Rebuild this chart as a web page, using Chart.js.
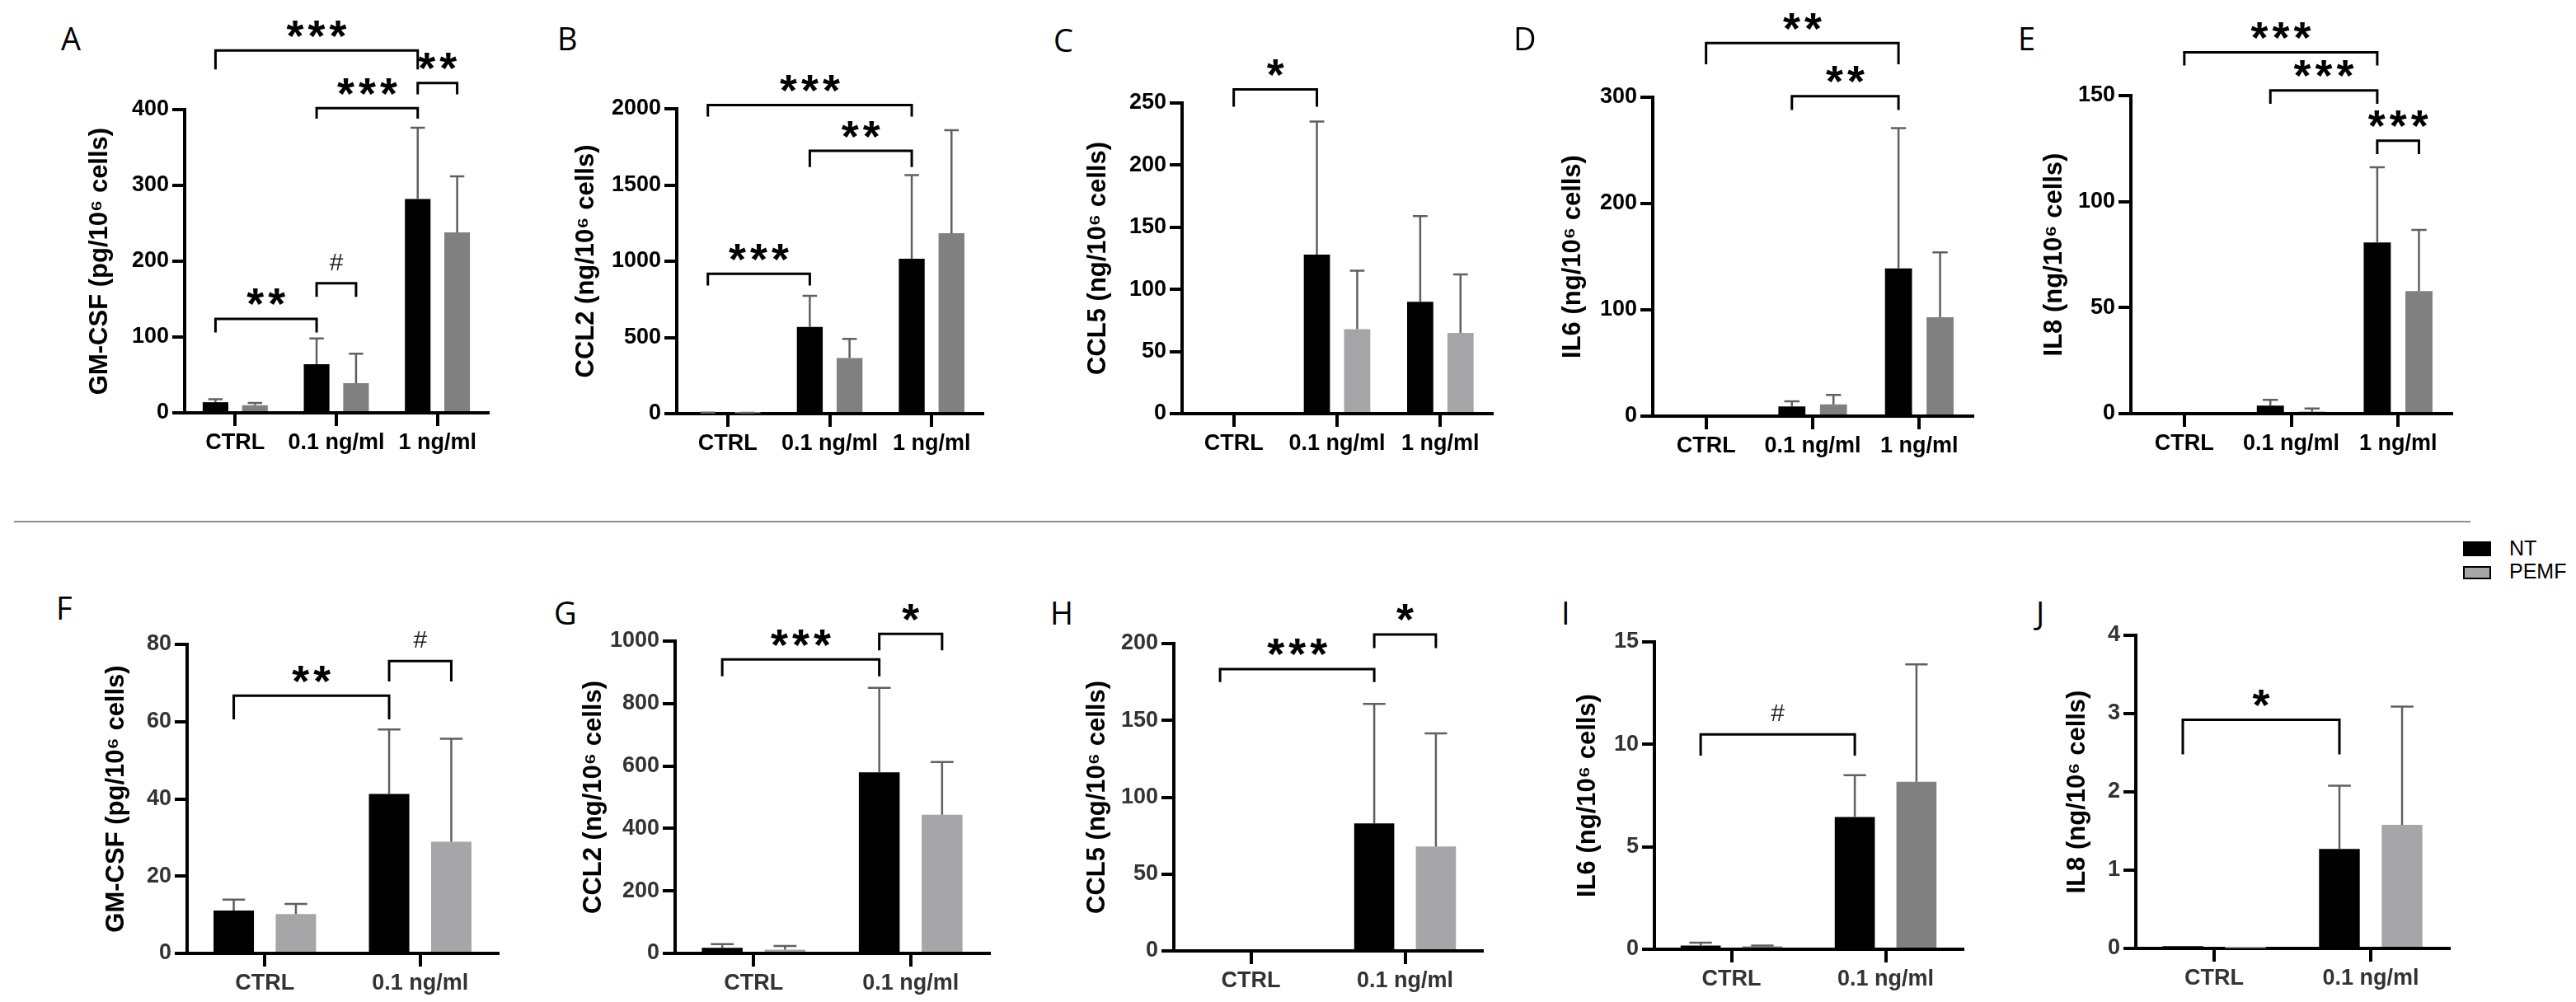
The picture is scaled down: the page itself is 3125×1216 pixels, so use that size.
<!DOCTYPE html>
<html><head><meta charset="utf-8">
<script src="https://cdn.jsdelivr.net/npm/chart.js@4.4.1/dist/chart.umd.min.js"></script>
<style>
html,body{margin:0;padding:0;background:#fff;width:3125px;height:1216px;overflow:hidden;position:relative}
canvas{position:absolute}
.lbl{position:absolute;font-family:'Open Sans',sans-serif;font-size:38px;line-height:1;color:#000}
#sep{position:absolute;left:17px;top:632px;width:2980px;height:2px;background:#8c8c8c}
.lg{position:absolute;font-family:'Liberation Sans',Arial,sans-serif;font-size:25px;line-height:1;color:#000}
.sw{position:absolute;box-sizing:border-box}
</style></head><body>
<div id="sep"></div>
<div class="sw" style="left:2988px;top:657px;width:34px;height:18px;background:#000"></div>
<div class="sw" style="left:2988px;top:687px;width:34px;height:16px;background:#a6a6a6;border:2px solid #000"></div>
<div class="lg" style="left:3044px;top:653px">NT</div>
<div class="lg" style="left:3044px;top:681px">PEMF</div>
<script>
// ---------------- DATA ----------------
const catsTop = ['CTRL', '0.1 ng/ml', '1 ng/ml'];
const catsBottom = ['CTRL', '0.1 ng/ml'];
const seriesNames = ['NT', 'PEMF'];

// Top row (A-E)
const gmcsfTopNT = [14, 64, 282];   const gmcsfTopNTsd = [4, 34, 94];
const gmcsfTopPEMF = [10, 39, 238]; const gmcsfTopPEMFsd = [3, 39, 74];
const gmcsfTopTicks = [0, 100, 200, 300, 400];

const ccl2TopNT = [5, 569, 1016];   const ccl2TopNTsd = [2, 204, 549];
const ccl2TopPEMF = [3, 365, 1184]; const ccl2TopPEMFsd = [2, 126, 676];
const ccl2TopTicks = [0, 500, 1000, 1500, 2000];

const ccl5TopNT = [0, 128, 90];     const ccl5TopNTsd = [0, 107, 69];
const ccl5TopPEMF = [0, 68, 65];    const ccl5TopPEMFsd = [0, 47, 47];
const ccl5TopTicks = [0, 50, 100, 150, 200, 250];

const il6TopNT = [0, 9.2, 139];     const il6TopNTsd = [0, 4.8, 132];
const il6TopPEMF = [0, 11, 93];     const il6TopPEMFsd = [0, 9, 61];
const il6TopTicks = [0, 100, 200, 300];

const il8TopNT = [0, 3.8, 80.7];    const il8TopNTsd = [0, 2.7, 35.5];
const il8TopPEMF = [0, 1, 57.8];    const il8TopPEMFsd = [0, 1.4, 28.9];
const il8TopTicks = [0, 50, 100, 150];

// Bottom row (F-J)
const gmcsfBotNT = [11.1, 41.3];    const gmcsfBotNTsd = [2.8, 16.7];
const gmcsfBotPEMF = [10.2, 28.9];  const gmcsfBotPEMFsd = [2.6, 26.7];
const gmcsfBotTicks = [0, 20, 40, 60, 80];

const ccl2BotNT = [18, 580];        const ccl2BotNTsd = [12, 270];
const ccl2BotPEMF = [12, 444];      const ccl2BotPEMFsd = [12, 169];
const ccl2BotTicks = [0, 200, 400, 600, 800, 1000];

const ccl5BotNT = [0, 83];          const ccl5BotNTsd = [0, 77.7];
const ccl5BotPEMF = [0, 68];        const ccl5BotPEMFsd = [0, 73.5];
const ccl5BotTicks = [0, 50, 100, 150, 200];

const il6BotNT = [0.18, 6.45];      const il6BotNTsd = [0.14, 2.05];
const il6BotPEMF = [0.14, 8.17];    const il6BotPEMFsd = [0.04, 5.73];
const il6BotTicks = [0, 5, 10, 15];

const il8BotNT = [0.03, 1.27];      const il8BotNTsd = [0, 0.81];
const il8BotPEMF = [0.005, 1.58];   const il8BotPEMFsd = [0, 1.51];
const il8BotTicks = [0, 1, 2, 3, 4];

// Significance brackets: [fromBar, fromCat, toBar, toCat, topValue, legValue, label]
const sigA = [['nt',0,'nt',1,124,106,'**'], ['nt',1,'pemf',1,171,153,'#'], ['nt',1,'nt',2,402,388,'***'], ['nt',2,'pemf',2,435,420,'**'], ['nt',0,'nt',2,478,453,'***']];
const sigB = [['nt',0,'nt',1,918,841,'***'], ['nt',1,'nt',2,1724,1617,'**'], ['nt',0,'nt',2,2025,1948,'***']];
const sigC = [['c',0,'nt',1,261,247,'*']];
const sigD = [['nt',1,'nt',2,301,288,'**'], ['c',0,'nt',2,351,331,'**']];
const sigE = [['c',0,'nt',2,170.4,164.2,'***'], ['nt',1,'nt',2,152.4,146.1,'***'], ['nt',2,'pemf',2,128.7,122.4,'***']];
const sigF = [['nt',0,'nt',1,66.7,60.6,'**'], ['nt',1,'pemf',1,75.7,70.4,'#']];
const sigG = [['nt',0,'nt',1,941,887,'***'], ['nt',1,'pemf',1,1023,970,'*']];
const sigH = [['nt',0,'nt',1,183.4,175,'***'], ['nt',1,'pemf',1,205.9,197,'*']];
const sigI = [['nt',0,'nt',1,10.49,9.45,'#']];
const sigJ = [['nt',0,'nt',1,2.92,2.48,'*']];

// ---------------- LAYOUT ----------------
const FONT = "'Liberation Sans', Arial, sans-serif";
const panels = [
  {L:'A', cats:catsTop, title:'GM-CSF (pg/10\u2076 cells)', nt:gmcsfTopNT, ntsd:gmcsfTopNTsd, pe:gmcsfTopPEMF, pesd:gmcsfTopPEMFsd, ticks:gmcsfTopTicks, sig:sigA, pc:'#808080', T:0, titleX:121, axisX:224, xEnd:592, yTop:133, yZero:501, cp:0.78, lx:74, ly:34},
  {L:'B', cats:catsTop, title:'CCL2 (ng/10\u2076 cells)', nt:ccl2TopNT, ntsd:ccl2TopNTsd, pe:ccl2TopPEMF, pesd:ccl2TopPEMFsd, ticks:ccl2TopTicks, sig:sigB, pc:'#808080', T:0, titleX:711, axisX:821, xEnd:1192, yTop:132, yZero:502, cp:0.78, lx:676, ly:34},
  {L:'C', cats:catsTop, title:'CCL5 (ng/10\u2076 cells)', nt:ccl5TopNT, ntsd:ccl5TopNTsd, pe:ccl5TopPEMF, pesd:ccl5TopPEMFsd, ticks:ccl5TopTicks, sig:sigC, pc:'#a5a5a8', T:0, titleX:1332, axisX:1434, xEnd:1810, yTop:125, yZero:502, cp:0.78, lx:1278, ly:36},
  {L:'D', cats:catsTop, title:'IL6 (ng/10\u2076 cells)', nt:il6TopNT, ntsd:il6TopNTsd, pe:il6TopPEMF, pesd:il6TopPEMFsd, ticks:il6TopTicks, sig:sigD, pc:'#808080', T:0, titleX:1908, axisX:2005, xEnd:2393, yTop:118, yZero:505, cp:0.78, lx:1836, ly:34},
  {L:'E', cats:catsTop, title:'IL8 (ng/10\u2076 cells)', nt:il8TopNT, ntsd:il8TopNTsd, pe:il8TopPEMF, pesd:il8TopPEMFsd, ticks:il8TopTicks, sig:sigE, pc:'#808080', T:0, titleX:2492, axisX:2585, xEnd:2974, yTop:116, yZero:502, cp:0.78, lx:2448, ly:34},
  {L:'F', cats:catsBottom, title:'GM-CSF (pg/10\u2076 cells)', nt:gmcsfBotNT, ntsd:gmcsfBotNTsd, pe:gmcsfBotPEMF, pesd:gmcsfBotPEMFsd, ticks:gmcsfBotTicks, sig:sigF, pc:'#a6a6a8', T:640, titleX:141, axisX:227, xEnd:604, yTop:782, yZero:1157, cp:0.8, lx:68, ly:725},
  {L:'G', cats:catsBottom, title:'CCL2 (ng/10\u2076 cells)', nt:ccl2BotNT, ntsd:ccl2BotNTsd, pe:ccl2BotPEMF, pesd:ccl2BotPEMFsd, ticks:ccl2BotTicks, sig:sigG, pc:'#a6a6a8', T:640, titleX:720, axisX:819, xEnd:1200, yTop:778, yZero:1157, cp:0.8, lx:672, ly:731},
  {L:'H', cats:catsBottom, title:'CCL5 (ng/10\u2076 cells)', nt:ccl5BotNT, ntsd:ccl5BotNTsd, pe:ccl5BotPEMF, pesd:ccl5BotPEMFsd, ticks:ccl5BotTicks, sig:sigH, pc:'#a6a6a8', T:640, titleX:1331, axisX:1424, xEnd:1798, yTop:781, yZero:1154, cp:0.8, lx:1274, ly:731},
  {L:'I', cats:catsBottom, title:'IL6 (ng/10\u2076 cells)', nt:il6BotNT, ntsd:il6BotNTsd, pe:il6BotPEMF, pesd:il6BotPEMFsd, ticks:il6BotTicks, sig:sigI, pc:'#808080', T:640, titleX:1926, axisX:2007, xEnd:2381, yTop:779, yZero:1152, cp:0.8, lx:1894, ly:731},
  {L:'J', cats:catsBottom, title:'IL8 (ng/10\u2076 cells)', nt:il8BotNT, ntsd:il8BotNTsd, pe:il8BotPEMF, pesd:il8BotPEMFsd, ticks:il8BotTicks, sig:sigJ, pc:'#a6a6a8', T:640, titleX:2520, axisX:2591, xEnd:2971, yTop:771, yZero:1151, cp:0.8, lx:2470, ly:731}
];

const errorBars = {
  id: 'errorBars',
  afterDatasetsDraw(chart) {
    const ctx = chart.ctx, ys = chart.scales.y;
    chart.data.datasets.forEach((ds, i) => {
      const meta = chart.getDatasetMeta(i);
      meta.data.forEach((bar, j) => {
        const sd = ds.sd[j];
        if (!sd) return;
        const top = ys.getPixelForValue(ds.data[j] + sd);
        const half = bar.width * 0.28;
        ctx.save();
        ctx.strokeStyle = '#606060';
        ctx.lineWidth = 2.5;
        ctx.beginPath();
        ctx.moveTo(bar.x, bar.y);
        ctx.lineTo(bar.x, top);
        ctx.moveTo(bar.x - half, top);
        ctx.lineTo(bar.x + half, top);
        ctx.stroke();
        ctx.restore();
      });
    });
  }
};

function barX(chart, which, idx) {
  if (which === 'c') return chart.scales.x.getPixelForValue(idx);
  return chart.getDatasetMeta(which === 'nt' ? 0 : 1).data[idx].x;
}

function drawSig(ctx, text, cx, cy) {
  ctx.save();
  ctx.fillStyle = '#000';
  ctx.textAlign = 'center';
  ctx.textBaseline = 'alphabetic';
  if (text[0] === '*') {
    ctx.font = 'bold 100px ' + FONT;
    let m = ctx.measureText('*');
    const w = m.actualBoundingBoxLeft + m.actualBoundingBoxRight;
    const size = 100 * 21 / w;
    ctx.font = 'bold ' + size + 'px ' + FONT;
    m = ctx.measureText('*');
    const base = cy + (m.actualBoundingBoxAscent - m.actualBoundingBoxDescent) / 2;
    const n = text.length, sp = 26;
    for (let i = 0; i < n; i++) ctx.fillText('*', cx + (i - (n - 1) / 2) * sp, base);
  } else {
    ctx.font = '30px ' + FONT;
    ctx.fillStyle = '#222';
    const m = ctx.measureText(text);
    const base = cy + (m.actualBoundingBoxAscent - m.actualBoundingBoxDescent) / 2;
    ctx.fillText(text, cx, base);
  }
  ctx.restore();
}

function makeBrackets(sig) {
  return {
    id: 'brackets',
    afterDraw(chart) {
      const ctx = chart.ctx, ys = chart.scales.y;
      sig.forEach(s => {
        const xa = barX(chart, s[0], s[1]);
        const xb = barX(chart, s[2], s[3]);
        const yt = ys.getPixelForValue(s[4]);
        const yl = ys.getPixelForValue(s[5]);
        ctx.save();
        ctx.strokeStyle = '#000';
        ctx.lineWidth = 3;
        ctx.lineJoin = 'miter';
        ctx.beginPath();
        ctx.moveTo(xa, yl); ctx.lineTo(xa, yt); ctx.lineTo(xb, yt); ctx.lineTo(xb, yl);
        ctx.stroke();
        ctx.restore();
        drawSig(ctx, s[6], (xa + xb) / 2, yt - 26);
      });
    }
  };
}

function makePanel(p) {
  const lbl = document.createElement('div');
  lbl.className = 'lbl';
  lbl.textContent = p.L;
  lbl.style.left = p.lx + 'px';
  lbl.style.top = (p.ly - 7) + 'px';
  document.body.appendChild(lbl);

  const titleSize = 31;
  const PL = p.titleX - 40;
  const padLeft = 40 - titleSize / 2;
  const padRight = 30;
  const xH = 62;
  const W = p.xEnd - PL + padRight;
  const H = p.yZero - p.T + xH;
  const cv = document.createElement('canvas');
  cv.width = W; cv.height = H;
  cv.style.left = PL + 'px'; cv.style.top = p.T + 'px';
  cv.style.width = W + 'px'; cv.style.height = H + 'px';
  document.body.appendChild(cv);
  const tickColor = p.T > 0 ? '#333' : '#000';
  const yw = p.axisX - PL - padLeft;

  new Chart(cv, {
    type: 'bar',
    data: {
      labels: p.cats,
      datasets: [
        {label: seriesNames[0], data: p.nt, sd: p.ntsd, backgroundColor: '#000', borderWidth: 0},
        {label: seriesNames[1], data: p.pe, sd: p.pesd, backgroundColor: p.pc, borderWidth: 0}
      ]
    },
    options: {
      responsive: false, animation: false, devicePixelRatio: 1,
      layout: {padding: {left: padLeft, right: padRight, top: p.yTop - p.T, bottom: 0}},
      plugins: {legend: {display: false}, tooltip: {enabled: false}},
      datasets: {bar: {categoryPercentage: p.cp, barPercentage: 0.65}},
      scales: {
        x: {
          z: 1,
          grid: {offset: false, drawOnChartArea: false, drawTicks: true, tickLength: 16, lineWidth: 4, tickColor: '#000'},
          border: {display: true, width: 4, color: '#000'},
          ticks: {font: {family: FONT, size: 27, weight: 'bold'}, color: tickColor, padding: 4, maxRotation: 0, autoSkip: false},
          afterFit(s) { s.height = xH; }
        },
        y: {
          z: 1,
          min: p.ticks[0], max: p.ticks[p.ticks.length - 1],
          afterBuildTicks(s) { s.ticks = p.ticks.map(v => ({value: v})); },
          grid: {drawOnChartArea: false, drawTicks: true, tickLength: 15, lineWidth: 4, tickColor: '#000'},
          border: {display: true, width: 4, color: '#000'},
          ticks: {font: {family: FONT, size: 27, weight: 'bold'}, color: tickColor, padding: 4, callback: v => String(v)},
          title: {display: true, text: p.title, color: '#000', padding: 0, font: {family: FONT, size: titleSize, weight: 'bold', lineHeight: 1}},
          afterFit(s) { s.width = yw; }
        }
      }
    },
    plugins: [errorBars, makeBrackets(p.sig)]
  });
}

panels.forEach(makePanel);
</script>
</body></html>
